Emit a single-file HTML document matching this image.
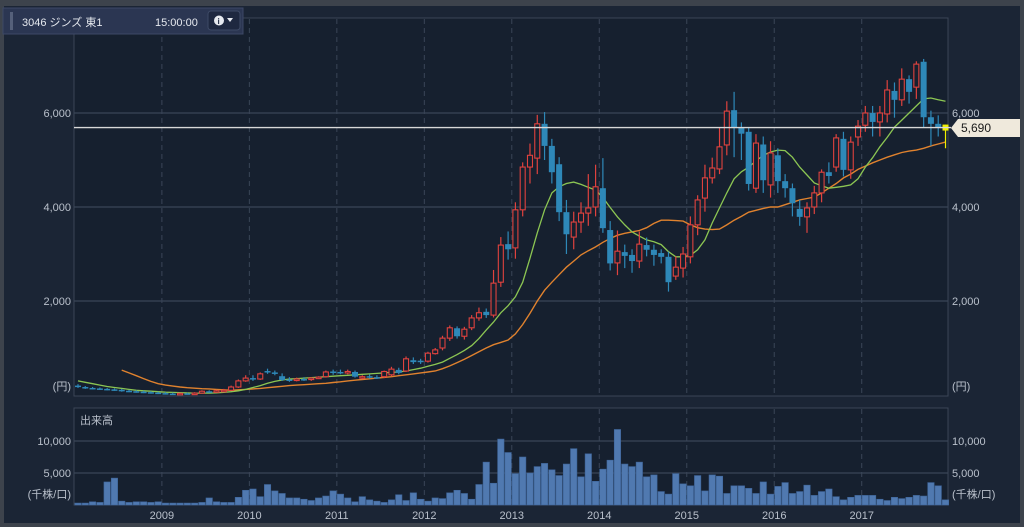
<!DOCTYPE html>
<html><head><meta charset="utf-8"><style>
html,body{margin:0;padding:0;background:#3d434c;width:1024px;height:527px;overflow:hidden;font-family:"Liberation Sans","Noto Sans CJK JP",sans-serif}
svg{display:block}
</style></head><body>
<svg id="chart" width="1024" height="527" xmlns="http://www.w3.org/2000/svg">
<rect x="0" y="0" width="1024" height="527" fill="#3d434c"/>
<rect x="4" y="6" width="1016" height="517" fill="#1b2535"/>
<rect x="74" y="18" width="874" height="378" fill="#16202f" stroke="#3b4556"/>
<rect x="74" y="408" width="874" height="97" fill="#16202f" stroke="#3b4556"/>
<g id="grid"></g>
<g id="vol"></g>
<g id="ma"></g>
<g id="candles"></g>
<g id="labels" font-size="11" fill="#b9c0cb"></g>
<g>
<rect x="3" y="8" width="240" height="26" fill="#2b3652" stroke="#3c4866"/>
<rect x="10" y="12" width="3" height="18" fill="#55607a"/>
<text x="22" y="26" font-size="11" fill="#e6e9ef">3046 ジンズ 東1</text>
<text x="155" y="26" font-size="11" fill="#e6e9ef">15:00:00</text>
<g>
<rect x="208" y="11" width="32" height="19" rx="3" fill="#1e2840" stroke="#3e4a66"/>
<circle cx="219" cy="20.5" r="5" fill="#e6e9ef"/><text x="217.5" y="24" font-size="8" font-weight="bold" fill="#1e2840">i</text>
<path d="M227 18 L233 18 L230 22 Z" fill="#e6e9ef"/>
</g>
</g>
<g>
<path d="M951 128 L958 119 L1020 119 L1020 137 L958 137 Z" fill="#efe9dc"/>
<text x="961" y="132" font-size="12" fill="#1a1a1a">5,690</text>
</g>
</svg>
<script>
const months=120;
const opens=[200,170,150,140,130,120,110,90,80,70,60,50,
40,30,25,35,30,40,80,70,90,100,170,300,
360,340,510,480,400,330,310,340,330,360,390,500,
490,480,490,360,400,380,390,430,535,510,740,730,
720,880,1000,1210,1420,1250,1430,1640,1770,1700,2400,3210,
3130,3940,4850,5040,5770,5300,4910,3890,3360,3680,3870,4000,
4400,3510,2810,3040,2980,2850,3190,3090,3020,2940,2530,2700,
2940,3620,4190,4620,4810,5320,6060,5680,5600,4400,5330,4470,
5100,4550,4400,3960,3790,4000,4300,4740,4850,5450,4790,5490,
5740,6000,5810,5980,6470,6280,6720,6550,7090,5910,5770,5770];
const closes=[170,150,140,130,120,110,90,80,70,60,50,40,
30,25,35,30,40,80,70,90,100,170,300,360,
340,450,480,450,320,310,340,330,360,380,490,490,
480,500,390,390,380,370,500,550,470,770,700,700,
890,960,1210,1430,1250,1400,1640,1750,1700,2380,3190,3100,
3940,4850,5100,5770,5300,4740,3890,3420,3680,3870,3980,4430,
3550,2800,3060,2960,2850,3210,3090,2980,2940,2400,2720,3000,
3620,4150,4620,4830,5280,6040,5680,5560,4490,5360,4570,5150,
4550,4400,4080,3790,3980,4300,4740,4660,5470,4790,5380,5720,
6000,5810,6000,6490,6280,6720,6450,7040,5910,5770,5700,5690];
const highs=[230,190,170,160,150,140,130,110,100,90,80,70,
60,50,50,50,60,100,100,110,130,200,330,420,
420,480,560,520,460,380,370,380,380,400,520,540,
540,540,520,420,440,420,520,600,580,820,800,770,
920,1000,1260,1480,1460,1450,1700,1860,1840,2660,3360,3480,
4100,4950,5350,5960,6020,5450,5060,4150,3900,4100,4700,4900,
5040,3700,3500,3200,3100,3480,3350,3200,3100,3050,2950,3150,
3800,4250,4900,5050,5700,6250,6450,5800,5700,5550,5500,5400,
5250,4700,4500,4150,4100,4450,4800,4950,5550,5600,5500,5850,
6150,6150,6150,6700,6650,6950,6800,7100,7150,6050,5950,5750];
const lows=[150,130,120,110,100,90,70,60,50,40,30,20,
10,10,15,20,20,30,50,60,80,90,150,280,
300,320,450,420,300,280,290,300,300,340,370,430,
440,440,370,340,350,340,360,400,440,490,660,660,
690,860,950,1150,1200,1180,1380,1580,1640,1650,2300,2880,
2900,3800,4500,4700,5000,4500,3700,3000,3100,3450,3600,3800,
3450,2650,2550,2700,2600,2700,2950,2750,2800,2200,2450,2500,
2800,3400,3900,4500,4700,5100,5060,5000,4350,4300,4300,4200,
4300,4200,3800,3600,3450,3850,4100,4500,4750,4650,4600,5300,
5600,5500,5500,5800,5900,6150,6200,6300,5700,5300,5500,5250];
const volumes=[300,300,500,400,3600,4200,600,400,500,500,400,500,
300,300,300,300,300,400,1100,500,400,400,1200,2300,
2500,1300,3200,2200,1800,1100,1100,900,700,1100,1400,2200,
1700,1100,500,1300,800,600,400,800,1600,700,1900,900,
600,1100,1000,1900,2300,1800,900,3200,6700,3400,10300,8200,
4900,7500,5000,6000,6500,5500,4600,6400,8800,4400,8000,3700,
5600,7000,11800,6400,6000,6700,4400,4700,2100,1700,4900,3300,
3000,4600,2200,4700,4500,1800,3000,3000,2600,1800,3600,1700,
2900,3500,1800,2100,3100,1500,2100,2500,1300,800,1200,1500,
1500,1500,900,700,1200,1000,1200,1500,1400,3500,3000,800];
const maShort=[300,270,240,210,180,160,140,120,100,90,80,70,
60,55,50,45,40,40,40,45,55,70,90,120,
160,200,250,290,320,340,350,360,370,380,390,400,
410,420,430,440,450,460,470,480,490,510,540,570,
610,650,700,780,860,950,1050,1200,1380,1550,1750,1900,
2090,2400,2910,3450,3940,4300,4430,4500,4530,4480,4420,4360,
4200,3990,3790,3620,3470,3380,3300,3260,3200,3050,2940,2940,
2970,3090,3300,3660,3980,4300,4600,4750,4850,4980,5100,5170,
5210,5200,5060,4850,4680,4510,4450,4400,4420,4440,4470,4600,
4850,5050,5280,5480,5700,5850,6000,6150,6300,6320,6280,6250];
const maLong=[null,null,null,null,null,null,530,470,410,350,290,240,
210,190,170,155,145,135,130,120,110,100,110,120,
130,140,155,170,185,200,210,220,230,240,250,265,
280,300,315,330,345,360,375,390,410,430,450,470,
490,510,560,620,690,760,840,920,1000,1070,1120,1170,
1300,1500,1740,2000,2230,2400,2560,2720,2850,2980,3070,3150,
3250,3330,3400,3440,3470,3500,3560,3650,3720,3720,3710,3700,
3620,3560,3530,3520,3530,3620,3720,3800,3890,3930,3970,4000,
4000,4050,4100,4150,4180,4210,4300,4400,4500,4620,4700,4800,
4870,4940,5000,5060,5110,5160,5190,5210,5250,5300,5340,5380];
const priceTicks=[2000,4000,6000];
const priceTickLabels=["2,000","4,000","6,000"];
const volTicks=[5000,10000];
const volTickLabels=["5,000","10,000"];
const yearLabels=["2009","2010","2011","2012","2013","2014","2015","2016","2017"];
const yearStartIndex=[12,24,36,48,60,72,84,96,108];
const currentPrice=5690;

const NS="http://www.w3.org/2000/svg";
function el(tag,attrs,parent){const e=document.createElementNS(NS,tag);for(const k in attrs)e.setAttribute(k,attrs[k]);parent.appendChild(e);return e;}
const xC=i=>78+i*7.29;
const yP=v=>395-v*0.047;
const yV=v=>505-v*0.0064;
const grid=document.getElementById('grid'),vol=document.getElementById('vol'),ma=document.getElementById('ma'),cg=document.getElementById('candles'),lab=document.getElementById('labels');

priceTicks.forEach((t,k)=>{
  const l=el('line',{x1:74,x2:948,y1:yP(t),y2:yP(t),stroke:'#3a4557','stroke-width':1.2},grid);
  
  
  const a=el('text',{x:71,y:yP(t)+4,'text-anchor':'end'},lab);a.textContent=priceTickLabels[k];
  
  
  const b=el('text',{x:952,y:yP(t)+4},lab);b.textContent=priceTickLabels[k];
  
  
});
volTicks.forEach((t,k)=>{
  const l=el('line',{x1:74,x2:948,y1:yV(t),y2:yV(t),stroke:'#3a4557','stroke-width':1.2},grid);
  
  
  const a=el('text',{x:71,y:yV(t)+4,'text-anchor':'end'},lab);a.textContent=volTickLabels[k];
  
  
  const b=el('text',{x:952,y:yV(t)+4},lab);b.textContent=volTickLabels[k];
  
  
});
yearLabels.forEach((y,k)=>{
  const x=xC(yearStartIndex[k])-3.6;
  const l1=el('line',{x1:x,x2:x,y1:19,y2:395,stroke:'#3a4557','stroke-dasharray':'5,4'},grid);
  
  
  const l2=el('line',{x1:x,x2:x,y1:409,y2:504,stroke:'#3a4557','stroke-dasharray':'5,4'},grid);
  
  
  const t=el('text',{x:x,y:519,'text-anchor':'middle'},lab);t.textContent=y;
  
  
});
[['(円)',71,'end',390],['(円)',952,'start',390],['(千株/口)',71,'end',498],['(千株/口)',952,'start',498],['出来高',80,'start',424]].forEach(a=>{
  const t=el('text',{x:a[1],y:a[3],'text-anchor':a[2]},lab);t.textContent=a[0];
  
  
});

volumes.forEach((v,i)=>{
  const r=el('rect',{x:xC(i)-3.2,y:yV(v),width:6.4,height:505-yV(v),fill:'#5079b0',stroke:'#3f669b','stroke-width':0.6},vol);
  
  
});

function maPath(arr){let d='';arr.forEach((v,i)=>{if(v==null)return;d+=(d?'L':'M')+xC(i).toFixed(1)+' '+yP(v).toFixed(1)+' ';});return d;}
const p1=el('path',{d:maPath(maLong),fill:'none',stroke:'#e0822e','stroke-width':1.4},ma);


const p2=el('path',{d:maPath(maShort),fill:'none',stroke:'#8cc653','stroke-width':1.3},ma);



for(let i=0;i<months;i++){
  const o=opens[i],c=closes[i],x=xC(i);
  const last=i===months-1;
  const up=c>=o;
  const col=last?'#f0f000':(up?'#e0423e':'#2e88b8');
  const w=el('line',{x1:x,x2:x,y1:yP(highs[i]),y2:yP(lows[i]),stroke:col,'stroke-width':1.2},cg);
  
  
  const top=yP(Math.max(o,c)),bot=yP(Math.min(o,c));
  let b;
  if(last){b=el('rect',{x:x-3,y:yP(currentPrice)-3,width:6,height:6,fill:col},cg);}
  else if(up){b=el('rect',{x:x-2.5,y:top,width:5,height:Math.max(1.5,bot-top),fill:'#16202f',stroke:col,'stroke-width':1.1},cg);}
  else{b=el('rect',{x:x-3,y:top,width:6,height:Math.max(1.5,bot-top),fill:col},cg);}
  
  
}
const cl=el('line',{x1:74,x2:951,y1:yP(currentPrice),y2:yP(currentPrice),stroke:'#d8d8d8','stroke-width':1.3},grid.parentNode);


</script>
</body></html>
